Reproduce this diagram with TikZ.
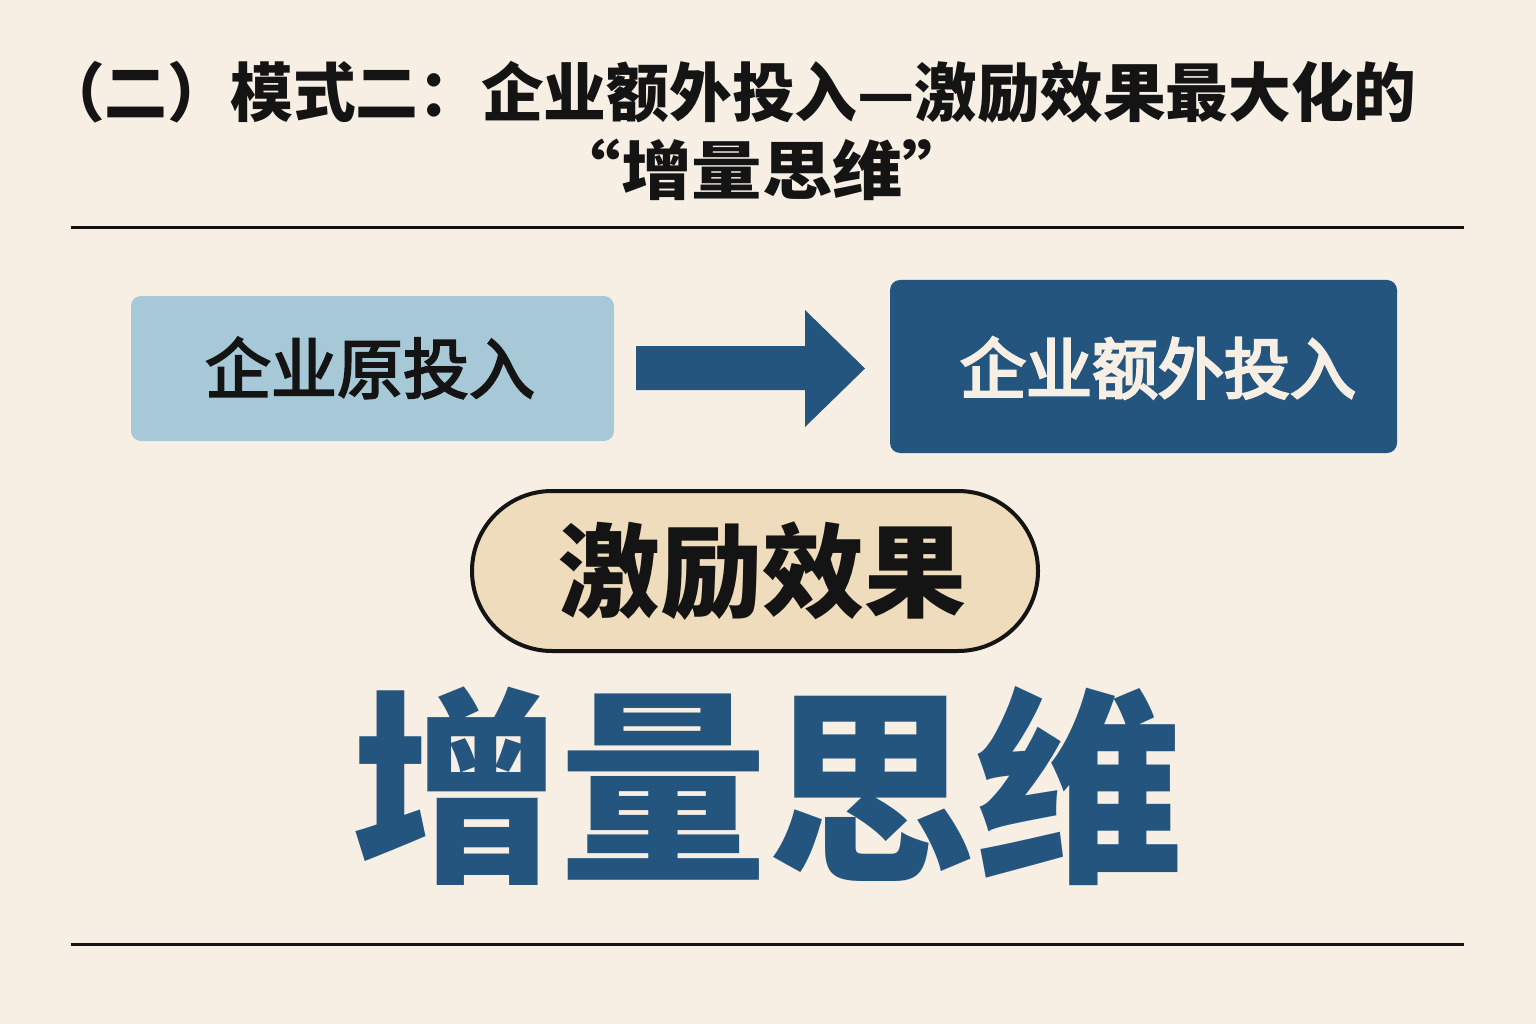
\documentclass[tikz,border=0pt]{standalone}
\usepackage{fontspec}
\newfontfamily\cjk{Noto Sans CJK SC}
\newfontfamily\cjkm[FakeBold=3]{Noto Sans CJK SC}
\newfontfamily\cjks[FakeBold=4]{Noto Sans CJK SC}
\usetikzlibrary{shapes.geometric}
\definecolor{bgc}{HTML}{F7EFE4}
\definecolor{lightb}{HTML}{A7C9D7}
\definecolor{darkb}{HTML}{23557F}
\definecolor{pillc}{HTML}{EFDCBD}
\definecolor{inkc}{HTML}{141414}
\begin{document}
\begin{tikzpicture}[x=1pt,y=-1pt,
  rule/.style={draw=inkc,line width=3pt},
  txt/.style={inner sep=0pt,font=\cjk\bfseries},
]
\fill[bgc] (0,0) rectangle (1536,1024);
\useasboundingbox (0,0) rectangle (1536,1024);
% title
\node[txt,text=inkc,font=\cjk\bfseries\fontsize{64}{66}\selectfont,anchor=west] (t1) at (42,92) {\scalebox{0.98}[1]{（二）模式二：企业额外投入—激励效果最大化的}};
\node[txt,text=inkc,font=\cjk\bfseries\fontsize{64}{66}\selectfont] (t2) at (762,170) {\scalebox{1.1}[1]{“增量思维”}};
% rules
\coordinate (r1a) at (71,228); \coordinate (r1b) at (1464,228);
\coordinate (r2a) at (71,944); \coordinate (r2b) at (1464,944);
\draw[rule] (r1a) -- (r1b);
\draw[rule] (r2a) -- (r2b);
% boxes
\node[draw=none,fill=lightb,rounded corners=10pt,minimum width=483pt,minimum height=145pt,inner sep=0pt] (b1) at (372.5,368.5) {};
\node[txt,text=inkc,font=\cjkm\fontsize{66}{68}\selectfont] (b1t) at (370,368) {企业原投入};
\node[draw=none,fill=darkb,rounded corners=10pt,minimum width=507pt,minimum height=173pt,inner sep=0pt] (b2) at (1143.5,366.5) {};
\node[txt,text=bgc,font=\cjks\fontsize{66}{68}\selectfont] (b2t) at (1158,368) {企业额外投入};
% arrow
\fill[darkb] (636,346) -- (805,346) -- (805,310) -- (865,368.5) -- (805,427) -- (805,390) -- (636,390) -- cycle;
% pill
\node[draw=inkc,line width=4pt,fill=pillc,rounded corners=80pt,minimum width=566pt,minimum height=160pt,inner sep=0pt] (pill) at (755,571) {};
\node[txt,text=inkc,font=\cjk\bfseries\fontsize{102}{104}\selectfont] (pillt) at (762,571) {激励效果};
% big text
\node[txt,text=darkb,font=\cjk\bfseries\fontsize{208}{210}\selectfont] (big) at (767,786) {增量思维};
\end{tikzpicture}
\end{document}
